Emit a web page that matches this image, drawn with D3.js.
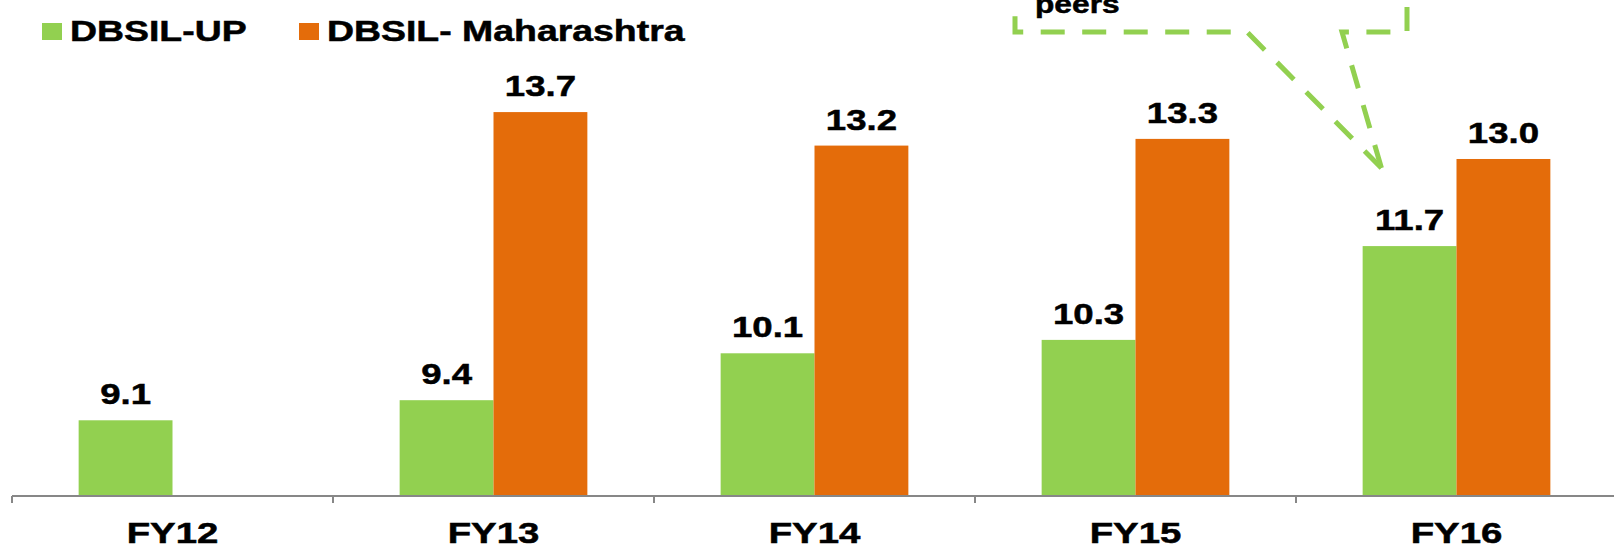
<!DOCTYPE html>
<html>
<head>
<meta charset="utf-8">
<script src="https://cdn.jsdelivr.net/npm/d3@7"></script>
<style>
  body { margin: 0; background: #fff; }
  svg { display: block; }
  text { font-family: "Liberation Sans", Arial, sans-serif; font-weight: bold; fill: #000; stroke: #000; stroke-width: 0.5px; }
</style>
</head>
<body>
<div id="chart"></div>
<script>
// data
const categories = ['FY12', 'FY13', 'FY14', 'FY15', 'FY16'];
const seriesNames = ['DBSIL-UP', 'DBSIL- Maharashtra'];
const upValues = [9.1, 9.4, 10.1, 10.3, 11.7];
const mahValues = [null, 13.7, 13.2, 13.3, 13.0];
const seriesColors = ['#92D050', '#E46C0A'];

const width = 1614;
const height = 549;

const svg = d3.select('#chart').append('svg')
  .attr('width', width)
  .attr('height', height);

// axis runs a little past the right edge in the source
const x0 = d3.scaleBand()
  .domain(categories)
  .range([12, 1617])
  .paddingInner(0)
  .paddingOuter(0);

const x1 = d3.scaleBand()
  .domain(seriesNames)
  .range([0, x0.bandwidth()])
  .paddingInner(0)
  .paddingOuter(0.71);

// value axis does not start at zero in the source
const y = d3.scaleLinear()
  .domain([7.97, 14])
  .range([496, 496 - 6.03 * 67]);

// helper: widened text placed at x,y (source text is stretched horizontally)
function label(g, x, yy, str, size, anchor, sx) {
  return g.append('text')
    .attr('transform', `translate(${x},${yy}) scale(${sx || 1.22},1)`)
    .attr('text-anchor', anchor || 'middle')
    .style('font-size', size + 'px')
    .text(str);
}

const rows = categories.map((c, i) => ({
  cat: c,
  vals: [
    { name: seriesNames[0], v: upValues[i], color: seriesColors[0] },
    { name: seriesNames[1], v: mahValues[i], color: seriesColors[1] }
  ].filter(d => d.v != null)
}));

const groups = svg.append('g').selectAll('g')
  .data(rows)
  .join('g')
    .attr('transform', d => `translate(${x0(d.cat)},0)`);

groups.selectAll('rect')
  .data(d => d.vals)
  .join('rect')
    .attr('x', d => x1(d.name))
    .attr('y', d => y(d.v))
    .attr('width', x1.bandwidth())
    .attr('height', d => y.range()[0] - y(d.v))
    .attr('fill', d => d.color);

groups.each(function (d) {
  const g = d3.select(this);
  d.vals.forEach(v => {
    label(g, x1(v.name) + x1.bandwidth() / 2, y(v.v) - 16, v.v.toFixed(1), 30);
  });
});

// category axis: ticks at category boundaries
const axis = svg.append('g');
axis.append('line')
  .attr('x1', x0.range()[0]).attr('x2', x0.range()[1])
  .attr('y1', 496).attr('y2', 496)
  .attr('stroke', '#878787').attr('stroke-width', 2);
axis.selectAll('line.tick')
  .data(categories.map(c => x0(c)))
  .join('line')
    .attr('class', 'tick')
    .attr('x1', d => d).attr('x2', d => d)
    .attr('y1', 496).attr('y2', 503)
    .attr('stroke', '#878787').attr('stroke-width', 2);
categories.forEach(c => {
  label(axis, x0(c) + x0.bandwidth() / 2, 543, c, 30, 'middle', 1.28);
});

// legend
const legend = svg.append('g');
const legendX = [42, 299];
const legendTextX = [70, 327];
seriesNames.forEach((s, i) => {
  legend.append('rect')
    .attr('x', legendX[i]).attr('y', 23)
    .attr('width', 20).attr('height', 17)
    .attr('fill', seriesColors[i]);
  label(legend, legendTextX[i], 41, s, 29, 'start', 1.29);
});

// callout box pointing at FY16 (cut off at the top in the source)
// drawn as two halves starting from the tip so a dash lands on the point
const tip = [x1(seriesNames[0]) + x0('FY16') + x1.bandwidth() * 0.2, 168];
const calloutHalves = [
  `M${tip[0]},${tip[1]} L1247,32 L1015,32 L1015,-80`,
  `M${tip[0]},${tip[1]} L1342,32 L1407,32 L1407,-80`
];
svg.append('g').selectAll('path')
  .data(calloutHalves)
  .join('path')
    .attr('d', d => d)
    .attr('fill', 'none')
    .attr('stroke', '#92D050')
    .attr('stroke-width', 5)
    .attr('stroke-dasharray', '24,17.5');
label(svg, 1035, 13, 'peers', 26, 'start');
</script>
</body>
</html>
